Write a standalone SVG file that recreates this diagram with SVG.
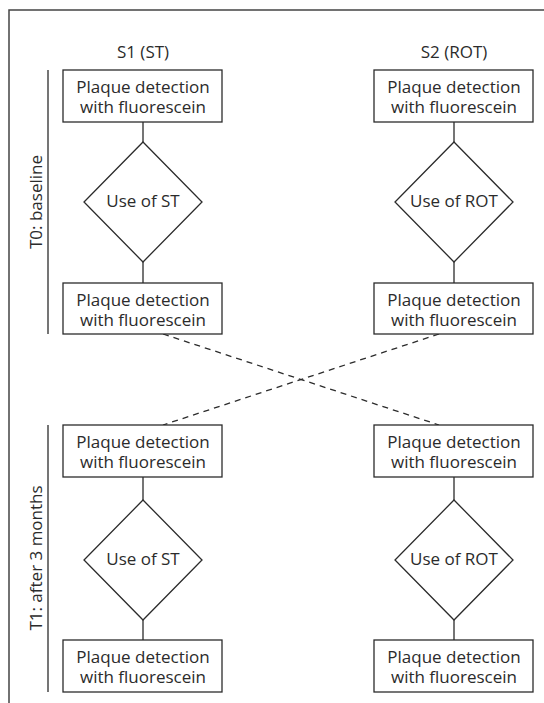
<svg xmlns="http://www.w3.org/2000/svg" width="544" height="703" viewBox="0 0 544 703">
<style>
text{font-family:"Open Sans","Noto Sans",sans-serif;font-size:17px;fill:#2b2b2b;text-anchor:middle}
.box{fill:#fff;stroke:#2b2b2b;stroke-width:1.3}
.ln{stroke:#2b2b2b;stroke-width:1.3;fill:none}
.dash{stroke:#2b2b2b;stroke-width:1.3;fill:none;stroke-dasharray:6,5}
</style>
<rect x="9" y="10" width="600" height="800" fill="none" stroke="#444" stroke-width="1.5"/>
<text x="143" y="58">S1 (ST)</text>
<text x="454" y="58">S2 (ROT)</text>
<g id="labels">
<line class="ln" x1="48" y1="70" x2="48" y2="334"/>
<line class="ln" x1="48" y1="425" x2="48" y2="692"/>
<text transform="translate(42,202) rotate(-90)">T0: baseline</text>
<text transform="translate(42,558) rotate(-90)">T1: after 3 months</text>
</g>
<g id="connectors">
<line class="ln" x1="143" y1="122" x2="143" y2="142"/>
<line class="ln" x1="143" y1="262" x2="143" y2="283"/>
<line class="ln" x1="454" y1="122" x2="454" y2="142"/>
<line class="ln" x1="454" y1="262" x2="454" y2="283"/>
<line class="ln" x1="143" y1="477" x2="143" y2="500"/>
<line class="ln" x1="143" y1="620" x2="143" y2="640"/>
<line class="ln" x1="454" y1="477" x2="454" y2="500"/>
<line class="ln" x1="454" y1="620" x2="454" y2="640"/>
<line class="dash" x1="163" y1="334" x2="439" y2="425"/>
<line class="dash" x1="439" y1="334" x2="163" y2="425"/>
</g>
<g id="s1-t0-pre"><rect class="box" x="63" y="70" width="159" height="52"/><text x="143" y="92.5">Plaque detection<tspan x="143" dy="20">with fluorescein</tspan></text></g>
<g id="s1-t0-use"><polygon class="box" points="143,142 202,202 143,262 84,202"/><text x="143" y="207">Use of ST</text></g>
<g id="s1-t0-post"><rect class="box" x="63" y="283" width="159" height="51"/><text x="143" y="305.5">Plaque detection<tspan x="143" dy="20">with fluorescein</tspan></text></g>
<g id="s2-t0-pre"><rect class="box" x="374" y="70" width="159" height="52"/><text x="454" y="92.5">Plaque detection<tspan x="454" dy="20">with fluorescein</tspan></text></g>
<g id="s2-t0-use"><polygon class="box" points="454,142 513,202 454,262 395,202"/><text x="454" y="207">Use of ROT</text></g>
<g id="s2-t0-post"><rect class="box" x="374" y="283" width="159" height="51"/><text x="454" y="305.5">Plaque detection<tspan x="454" dy="20">with fluorescein</tspan></text></g>
<g id="s1-t1-pre"><rect class="box" x="63" y="425" width="159" height="52"/><text x="143" y="447.5">Plaque detection<tspan x="143" dy="20">with fluorescein</tspan></text></g>
<g id="s1-t1-use"><polygon class="box" points="143,500 202,560 143,620 84,560"/><text x="143" y="565">Use of ST</text></g>
<g id="s1-t1-post"><rect class="box" x="63" y="640" width="159" height="52"/><text x="143" y="662.5">Plaque detection<tspan x="143" dy="20">with fluorescein</tspan></text></g>
<g id="s2-t1-pre"><rect class="box" x="374" y="425" width="159" height="52"/><text x="454" y="447.5">Plaque detection<tspan x="454" dy="20">with fluorescein</tspan></text></g>
<g id="s2-t1-use"><polygon class="box" points="454,500 513,560 454,620 395,560"/><text x="454" y="565">Use of ROT</text></g>
<g id="s2-t1-post"><rect class="box" x="374" y="640" width="159" height="52"/><text x="454" y="662.5">Plaque detection<tspan x="454" dy="20">with fluorescein</tspan></text></g>
</svg>
